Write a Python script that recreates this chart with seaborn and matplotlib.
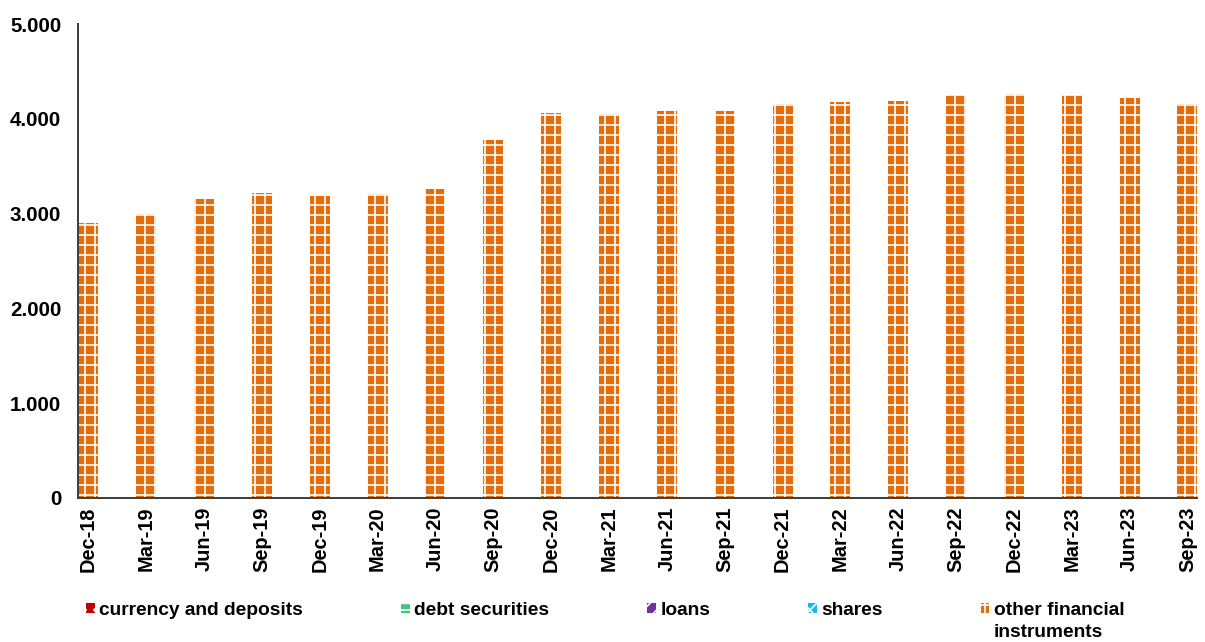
import numpy as np
import pandas as pd
import matplotlib
matplotlib.use("Agg")
import matplotlib.pyplot as plt
from matplotlib.patches import Patch
from matplotlib.ticker import FuncFormatter, FixedLocator
import seaborn as sns

categories = ["Dec-18", "Mar-19", "Jun-19", "Sep-19", "Dec-19", "Mar-20", "Jun-20",
              "Sep-20", "Dec-20", "Mar-21", "Jun-21", "Sep-21", "Dec-21", "Mar-22",
              "Jun-22", "Sep-22", "Dec-22", "Mar-23", "Jun-23", "Sep-23"]
currency_and_deposits = [0] * 20
debt_securities = [0] * 20
loans = [0] * 20
shares = [0] * 20
other_financial_instruments = [2900, 3000, 3150, 3220, 3190, 3210, 3255, 3780, 4065, 4050,
                               4080, 4080, 4160, 4180, 4190, 4255, 4265, 4255, 4215, 4160]

series_names = ["currency and deposits", "debt securities", "loans", "shares",
                "other financial instruments"]
legend_first_lines = ["currency and deposits", "debt securities", "loans", "shares",
                      "other financial"]
legend_second_line = "instruments"
series_values = [currency_and_deposits, debt_securities, loans, shares,
                 other_financial_instruments]
series_colors = ["#C00000", "#3CC878", "#7030A0", "#1EB4F0", "#E46C0A"]
series_hatches = ["..", "---", "///", "xx", "++"]

sns.set_style("white")
plt.rcParams["font.family"] = ["Liberation Sans", "DejaVu Sans"]
plt.rcParams["font.weight"] = "bold"
plt.rcParams["text.color"] = "black"
plt.rcParams["hatch.linewidth"] = 1.0

dpi = 120
W, H = 1205, 642
fig = plt.figure(figsize=(W / dpi, H / dpi), dpi=dpi)
ax = fig.add_axes([0.0647, 0.2243, 0.9287, 0.7383])

bar_w = 0.346
bottom = np.zeros(len(categories))
for name, vals, col, hat in zip(series_names, series_values, series_colors, series_hatches):
    df = pd.DataFrame({"quarter": categories, "value": vals})
    sns.barplot(data=df, x="quarter", y="value", order=categories, color=col,
                width=bar_w, errorbar=None, ax=ax, bottom=bottom.copy(),
                hatch=hat, edgecolor="white", linewidth=0, saturation=1)
    bottom = bottom + np.array(vals, dtype=float)

ax.set_xlabel("")
ax.set_ylabel("")
ax.set_ylim(0, 5000)
ax.set_xlim(-0.18, len(categories) - 1 + 0.165)
ax.set_yticks(np.arange(0, 5001, 1000))
ax.yaxis.set_major_formatter(FuncFormatter(lambda v, p: f"{int(v):,}".replace(",", ".")))

ax.set_xticks(range(len(categories)))
ax.set_xticklabels(categories, rotation=90)
ax.xaxis.set_minor_locator(FixedLocator([i - 0.173 for i in range(len(categories))]))
ax.tick_params(axis="x", which="major", length=0, pad=5, labelsize=12)
ax.tick_params(axis="x", which="minor", length=4, width=1.2, color="#404040", direction="out")
ax.tick_params(axis="y", which="major", length=4, width=1.2, color="#404040",
               direction="out", labelsize=12.3, pad=6)
for lab in ax.get_xticklabels() + ax.get_yticklabels():
    lab.set_fontweight("bold")
    lab.set_color("black")

for s in ["top", "right"]:
    ax.spines[s].set_visible(False)
for s in ["left", "bottom"]:
    ax.spines[s].set_color("#404040")
    ax.spines[s].set_linewidth(1.2)

legend_font = {"family": "Liberation Sans", "weight": "bold", "size": 11.5}
handles = [Patch(facecolor=c, edgecolor="white", hatch=h, linewidth=0)
           for c, h in zip(series_colors, series_hatches)]
leg = fig.legend(handles, legend_first_lines, ncol=5, loc="upper left",
                 bbox_to_anchor=(86 / W, 1 - 602 / H), frameon=False,
                 prop=legend_font, labelcolor="black",
                 handlelength=0.45, handleheight=0.45, handletextpad=0.25,
                 columnspacing=5.1, borderpad=0, borderaxespad=0)

fig.canvas.draw()
renderer = fig.canvas.get_renderer()
bb = leg.get_texts()[-1].get_window_extent(renderer)
fig.text(bb.x0 / W, (bb.y1 - 22) / H, legend_second_line, ha="left", va="top",
         fontfamily="Liberation Sans", fontweight="bold", fontsize=11.5, color="black")

fig.savefig("out.png", dpi=dpi)
